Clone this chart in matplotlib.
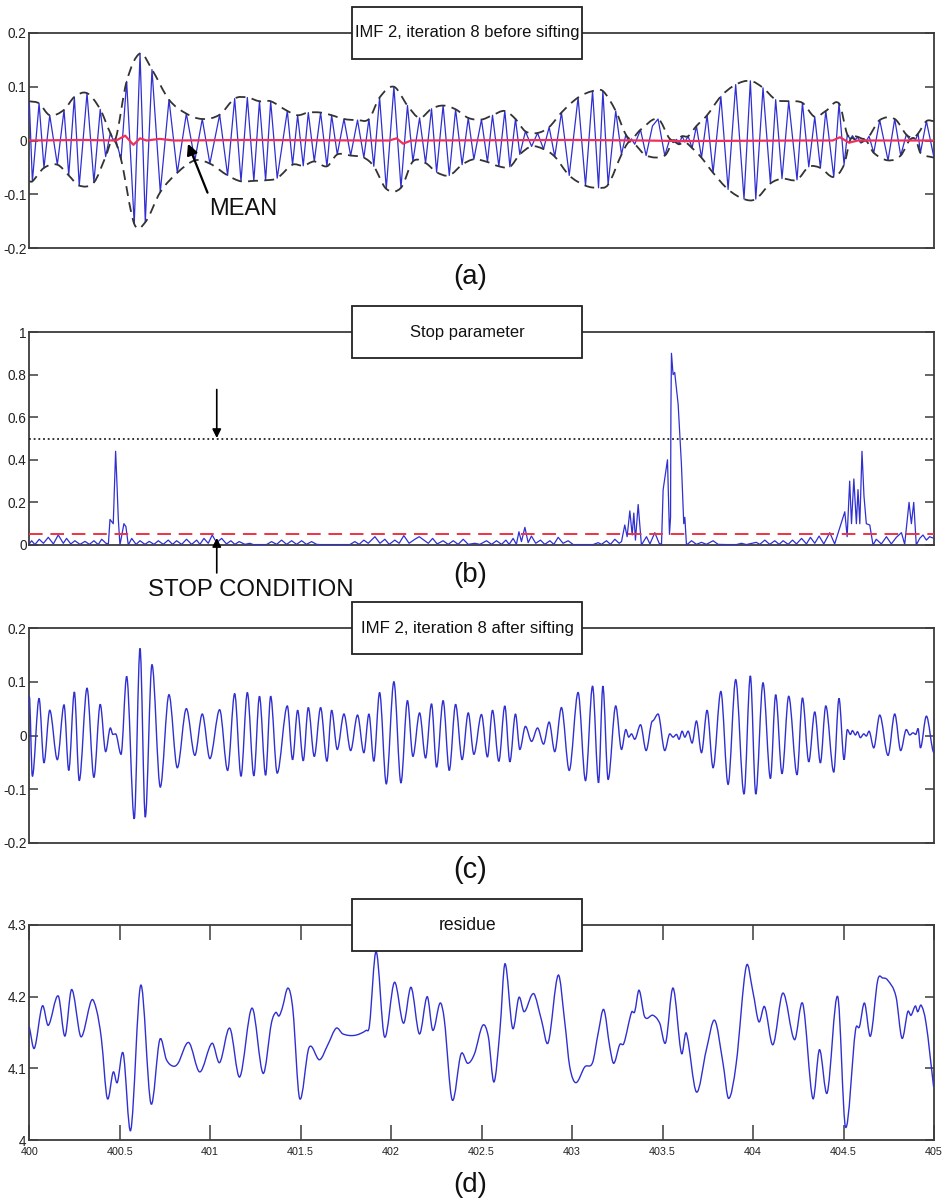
import numpy as np
import matplotlib
matplotlib.use("Agg")
import matplotlib.pyplot as plt
from matplotlib.path import Path
from matplotlib.patches import PathPatch, Rectangle

FONT = ['Liberation Sans Narrow', 'Liberation Sans', 'DejaVu Sans']
plt.rcParams['font.family'] = FONT

T0 = 400.0
# ---------------- data (time offsets from 400 s) ----------------
imf_t = [0.000, 0.017, 0.054, 0.081, 0.113, 0.155, 0.192, 0.218, 0.249, 0.276, 0.319, 0.357, 0.392, 0.422,
         0.448, 0.462, 0.477, 0.507, 0.538, 0.580, 0.612, 0.641, 0.678, 0.724, 0.772, 0.818, 0.868, 0.915,
         0.956, 0.998, 1.052, 1.096, 1.135, 1.170, 1.205, 1.241, 1.272,
         1.306, 1.334, 1.370, 1.426, 1.455, 1.483, 1.514, 1.542, 1.575, 1.610, 1.645, 1.671, 1.702, 1.739,
         1.776, 1.814, 1.849, 1.877, 1.904, 1.936, 1.973, 2.015, 2.054, 2.090, 2.120, 2.157, 2.190, 2.223,
         2.251, 2.287, 2.321, 2.356, 2.392, 2.426, 2.457, 2.499, 2.532,
         2.560, 2.595, 2.628, 2.656, 2.687, 2.711, 2.742, 2.776, 2.809, 2.842, 2.873, 2.904, 2.941, 2.984,
         3.033, 3.074, 3.113, 3.146, 3.170, 3.199, 3.241, 3.273, 3.297, 3.313, 3.328, 3.346, 3.378, 3.409,
         3.444, 3.475, 3.512, 3.540, 3.558, 3.577, 3.591, 3.608, 3.623, 3.641, 3.663, 3.687, 3.715, 3.746,
         3.779,
         3.822, 3.862, 3.904, 3.950, 3.985, 4.015, 4.055, 4.096, 4.125, 4.160, 4.197, 4.243, 4.273, 4.308,
         4.341, 4.372, 4.402, 4.446, 4.475, 4.503, 4.521, 4.538, 4.549, 4.566, 4.577, 4.593, 4.612, 4.626,
         4.641, 4.667, 4.700, 4.746, 4.783, 4.816, 4.847, 4.866, 4.884, 4.899, 4.912, 4.925, 4.958, 5.000]
imf_v = [0.073, -0.076, 0.069, -0.051, 0.047, -0.045, 0.057, -0.065, 0.081, -0.084, 0.088, -0.078, 0.058, -0.030,
         0.014, 0.002, 0.003, -0.035, 0.110, -0.155, 0.162, -0.152, 0.132, -0.096, 0.076, -0.060, 0.050, -0.037,
         0.040, -0.043, 0.048, -0.065, 0.078, -0.076, 0.080, -0.075, 0.073,
         -0.074, 0.073, -0.070, 0.055, -0.045, 0.047, -0.047, 0.052, -0.039, 0.052, -0.048, 0.047, -0.026, 0.040,
         -0.028, 0.038, -0.032, 0.040, -0.048, 0.080, -0.090, 0.100, -0.088, 0.065, -0.039, 0.042, -0.042, 0.059,
         -0.059, 0.065, -0.065, 0.058, -0.045, 0.042, -0.035, 0.039, -0.040,
         0.047, -0.048, 0.055, -0.049, 0.040, -0.026, 0.017, -0.011, 0.014, -0.016, 0.025, -0.030, 0.052, -0.065,
         0.080, -0.084, 0.092, -0.088, 0.092, -0.082, 0.055, -0.026, 0.011, -0.003, 0.003, -0.007, 0.020, -0.028,
         0.027, 0.040, -0.028, 0.003, -0.003, 0.002, -0.007, 0.008, -0.003, 0.008, -0.014, 0.027, -0.032, 0.047,
         -0.060,
         0.082, -0.091, 0.104, -0.109, 0.111, -0.109, 0.098, -0.080, 0.076, -0.071, 0.073, -0.073, 0.070, -0.049,
         0.044, -0.051, 0.055, -0.068, 0.069, -0.045, 0.011, 0.002, 0.009, 0.001, 0.007, -0.004, 0.003, -0.001,
         0.008, -0.023, 0.038, -0.037, 0.040, -0.028, 0.011, 0.001, 0.005, 0.002, 0.013, -0.023, 0.036, -0.032]

mean_t = [0.00, 0.30, 0.48, 0.53, 0.575, 0.612, 0.648, 0.72, 0.80, 1.20, 1.90, 1.99, 2.03, 2.066, 2.11,
          3.00, 3.40, 3.60, 4.30, 4.44, 4.48, 4.53, 4.58, 5.00]
mean_v = [0.000, 0.001, 0.000, 0.009, -0.008, 0.004, 0.000, 0.003, 0.000, 0.001, 0.000, 0.000, 0.004, -0.006,
          0.000, 0.001, 0.000, -0.001, 0.000, 0.000, 0.006, -0.004, 0.000, 0.000]

stop_t = [0.000, 0.013, 0.031, 0.055, 0.078, 0.105, 0.133, 0.160, 0.188, 0.206, 0.229, 0.252, 0.280, 0.308,
          0.332, 0.357, 0.381, 0.400, 0.424, 0.437, 0.446, 0.464, 0.477, 0.483, 0.492, 0.501, 0.523, 0.534,
          0.547, 0.566, 0.590, 0.612, 0.639, 0.663, 0.689, 0.713, 0.740, 0.768, 0.792, 0.814, 0.842, 0.869,
          0.897, 0.925, 0.943, 0.965, 0.989, 1.011, 1.035, 1.063, 1.090, 1.114, 1.136, 1.160, 1.192, 1.219,
          1.238, 1.311, 1.339, 1.367, 1.394, 1.422, 1.450, 1.477, 1.505, 1.532, 1.560, 1.588, 1.606, 1.772,
          1.799, 1.823, 1.849, 1.873, 1.910, 1.938, 1.965, 1.989, 2.020, 2.044, 2.070, 2.099, 2.131, 2.155,
          2.181, 2.205, 2.229, 2.254, 2.287, 2.315, 2.343, 2.370, 2.398, 2.426,
          2.462, 2.490, 2.527, 2.555, 2.582, 2.610, 2.634, 2.652, 2.674, 2.692, 2.706, 2.720, 2.739, 2.757,
          2.775, 2.799, 2.825, 2.849, 2.877, 2.899, 2.923, 2.950, 2.978, 3.006, 3.061, 3.116, 3.144, 3.162,
          3.190, 3.212, 3.236, 3.260, 3.273, 3.291, 3.304, 3.319, 3.332, 3.341, 3.350, 3.365, 3.383, 3.411,
          3.430, 3.457, 3.481, 3.494, 3.503, 3.527, 3.538, 3.544, 3.546, 3.549, 3.558, 3.567, 3.586, 3.604,
          3.617, 3.623, 3.632, 3.660, 3.687, 3.715, 3.742, 3.779, 3.807, 3.853, 3.908, 3.936, 3.963, 4.018,
          4.037, 4.065, 4.092, 4.120, 4.144, 4.166, 4.194, 4.218, 4.240, 4.268, 4.295, 4.317, 4.341, 4.365,
          4.391, 4.424, 4.451, 4.475, 4.507, 4.520, 4.534, 4.544, 4.557, 4.571, 4.580, 4.590, 4.602, 4.613,
          4.626, 4.645, 4.663, 4.681, 4.709, 4.737, 4.764, 4.792, 4.820, 4.838, 4.862, 4.875, 4.888, 4.902,
          4.921, 4.939, 4.958, 4.976, 5.000]
stop_v = [0.005, 0.020, 0.002, 0.027, 0.008, 0.036, 0.005, 0.047, 0.008, 0.031, 0.005, 0.020, 0.003, 0.017,
          0.003, 0.020, 0.002, 0.027, 0.008, 0.005, 0.120, 0.100, 0.440, 0.320, 0.120, 0.000, 0.100, 0.086,
          0.000, 0.031, 0.003, 0.020, 0.003, 0.017, 0.003, 0.020, 0.003, 0.023, 0.003, 0.020, 0.003, 0.027,
          0.003, 0.023, 0.003, 0.031, 0.008, 0.047, 0.011, 0.031, 0.005, 0.020, 0.003, 0.016, 0.003, 0.008,
          0.002, 0.002, 0.016, 0.003, 0.023, 0.003, 0.020, 0.003, 0.020, 0.003, 0.016, 0.003, 0.002, 0.002,
          0.016, 0.003, 0.023, 0.008, 0.039, 0.008, 0.027, 0.003, 0.023, 0.008, 0.044, 0.008, 0.027, 0.039,
          0.023, 0.008, 0.031, 0.005, 0.020, 0.003, 0.020, 0.003, 0.027, 0.003,
          0.008, 0.003, 0.020, 0.003, 0.020, 0.003, 0.023, 0.003, 0.031, 0.003, 0.062, 0.016, 0.083, 0.011,
          0.042, 0.008, 0.023, 0.003, 0.020, 0.003, 0.036, 0.008, 0.020, 0.002, 0.002, 0.002, 0.011, 0.003,
          0.020, 0.003, 0.027, 0.008, 0.016, 0.094, 0.039, 0.160, 0.047, 0.150, 0.023, 0.190, 0.000, 0.039,
          0.005, 0.058, 0.008, 0.003, 0.260, 0.400, 0.050, 0.130, 0.630, 0.900, 0.800, 0.810, 0.660, 0.380,
          0.100, 0.130, 0.000, 0.020, 0.003, 0.0125, 0.003, 0.020, 0.003, 0.002, 0.002, 0.008, 0.002, 0.0125,
          0.003, 0.023, 0.003, 0.020, 0.003, 0.020, 0.003, 0.023, 0.005, 0.031, 0.005, 0.036, 0.008, 0.042,
          0.005, 0.058, 0.005, 0.070, 0.156, 0.039, 0.300, 0.100, 0.310, 0.100, 0.260, 0.100, 0.440, 0.230,
          0.100, 0.094, 0.000, 0.027, 0.005, 0.039, 0.005, 0.036, 0.058, 0.003, 0.200, 0.100, 0.200, 0.000,
          0.031, 0.047, 0.023, 0.039, 0.031]
stop_thresholds = [0.05, 0.5]

res_t = [0.000, 0.028, 0.072, 0.105, 0.160, 0.197, 0.234, 0.280, 0.298, 0.344, 0.372, 0.399, 0.431, 0.464,
         0.486, 0.519, 0.561, 0.616, 0.672, 0.721, 0.758, 0.795, 0.822, 0.881, 0.942, 1.010, 1.052, 1.108,
         1.163, 1.231, 1.292, 1.338, 1.362, 1.380, 1.398, 1.430, 1.457, 1.494, 1.546, 1.604, 1.650, 1.696,
         1.733, 1.798, 1.862, 1.880, 1.917, 1.963, 2.018, 2.068, 2.110, 2.156, 2.199, 2.230, 2.270, 2.294,
         2.337, 2.386, 2.423, 2.460, 2.506, 2.537, 2.568, 2.601, 2.629, 2.671, 2.706, 2.735, 2.776, 2.794,
         2.831, 2.868, 2.923, 2.960, 2.987, 3.021, 3.070, 3.113, 3.144, 3.175, 3.208, 3.230, 3.263, 3.286,
         3.328, 3.346, 3.370, 3.401, 3.447, 3.484, 3.517, 3.558, 3.604, 3.631, 3.687, 3.742, 3.788, 3.834,
         3.865, 3.907, 3.962, 3.999, 4.032, 4.064, 4.110, 4.165, 4.229, 4.275, 4.330, 4.367, 4.410, 4.468,
         4.511, 4.566, 4.588, 4.616, 4.649, 4.689, 4.717, 4.744, 4.790, 4.823, 4.855, 4.873, 4.897, 4.910,
         4.929, 4.956, 4.998]
res_v = [4.158, 4.128, 4.187, 4.160, 4.201, 4.145, 4.210, 4.147, 4.149, 4.195, 4.181, 4.140, 4.058, 4.095,
         4.080, 4.121, 4.014, 4.216, 4.051, 4.140, 4.112, 4.103, 4.107, 4.136, 4.095, 4.135, 4.108, 4.156,
         4.088, 4.184, 4.093, 4.163, 4.178, 4.173, 4.184, 4.212, 4.181, 4.058, 4.129, 4.112, 4.133, 4.156,
         4.148, 4.146, 4.153, 4.160, 4.263, 4.144, 4.220, 4.163, 4.213, 4.148, 4.200, 4.153, 4.191, 4.167,
         4.056, 4.120, 4.107, 4.120, 4.160, 4.144, 4.081, 4.153, 4.246, 4.156, 4.199, 4.179, 4.202, 4.202,
         4.167, 4.136, 4.230, 4.163, 4.102, 4.080, 4.102, 4.108, 4.149, 4.182, 4.130, 4.107, 4.133, 4.135,
         4.178, 4.179, 4.209, 4.172, 4.174, 4.163, 4.136, 4.212, 4.121, 4.149, 4.067, 4.126, 4.167, 4.107,
         4.058, 4.107, 4.242, 4.207, 4.165, 4.186, 4.133, 4.205, 4.140, 4.190, 4.058, 4.126, 4.066, 4.200,
         4.018, 4.153, 4.158, 4.191, 4.145, 4.223, 4.226, 4.223, 4.200, 4.142, 4.179, 4.174, 4.187, 4.179,
         4.188, 4.163, 4.074]

titles = ["IMF 2, iteration 8 before sifting", "Stop parameter",
          "IMF 2, iteration 8 after sifting", "residue"]
title_widths_px = [224, 114, 212, 58]
panel_labels = ["(a)", "(b)", "(c)", "(d)"]
imf_ticks = [-0.2, -0.1, 0, 0.1, 0.2]
imf_ticklabels = ["-0.2", "-0.1", "0", "0.1", "0.2"]
stop_ticks = [0, 0.2, 0.4, 0.6, 0.8, 1]
stop_ticklabels = ["0", "0.2", "0.4", "0.6", "0.8", "1"]
res_ticks = [4, 4.1, 4.2, 4.3]
res_ticklabels = ["4", "4.1", "4.2", "4.3"]
x_ticks = [400, 400.5, 401, 401.5, 402, 402.5, 403, 403.5, 404, 404.5, 405]
x_ticklabels = ["400", "400.5", "401", "401.5", "402", "402.5", "403", "403.5", "404", "404.5", "405"]

BLUE = '#2f2fd2'
SPINE = '#3c3c3c'


def smooth_path(x, y, flat=False):
    x = np.asarray(x, float)
    y = np.asarray(y, float)
    n = len(x)
    verts = [(x[0], y[0])]
    codes = [Path.MOVETO]
    for i in range(n - 1):
        dx = x[i + 1] - x[i]
        if flat:
            m1 = m2 = 0.0
        else:
            i0 = max(i - 1, 0)
            i3 = min(i + 2, n - 1)
            m1 = (y[i + 1] - y[i0]) / (x[i + 1] - x[i0])
            m2 = (y[i3] - y[i]) / (x[i3] - x[i])
        verts += [(x[i] + dx / 3, y[i] + m1 * dx / 3),
                  (x[i + 1] - dx / 3, y[i + 1] - m2 * dx / 3),
                  (x[i + 1], y[i + 1])]
        codes += [Path.CURVE4] * 3
    return Path(verts, codes)


def add_curve(ax, x, y, flat=False, **kw):
    p = PathPatch(smooth_path(x, y, flat), fill=False, **kw)
    ax.add_patch(p)
    return p


fig = plt.figure(figsize=(9.47, 12.03), dpi=100)
renderer = fig.canvas.get_renderer()


def fit_width(txt, target_px):
    w = txt.get_window_extent(renderer).width
    if w > 0:
        txt.set_fontsize(txt.get_fontsize() * target_px / w)


def size_for(sample, target_px, base=10.0):
    t = fig.text(0, 0, sample, fontsize=base)
    w = t.get_window_extent(renderer).width
    t.remove()
    return base * target_px / w


ylab_size = size_for("0.2", 19)
xlab_size = size_for("400.5", 27)

W, H = 947.0, 1203.0
left = 29.3 / W
width = (934.0 - 29.3) / W
tops = [33, 332, 628, 925]
bottoms = [248, 545, 843, 1140]
label_y = [277, 575, 870, 1185]
axes = []
for tp, bt in zip(tops, bottoms):
    ax = fig.add_axes([left, 1 - bt / H, width, (bt - tp) / H])
    axes.append(ax)

for i, ax in enumerate(axes):
    ax.set_xlim(400, 405)
    for s in ax.spines.values():
        s.set_color(SPINE)
        s.set_linewidth(1.3)
    ax.tick_params(axis='y', direction='in', left=True, right=True, length=6.5,
                   width=1.1, color=SPINE, labelsize=ylab_size, pad=2, labelcolor='#222222')
    if i < 3:
        ax.tick_params(axis='x', bottom=False, top=False, labelbottom=False)
    else:
        ax.set_xticks(x_ticks)
        ax.set_xticklabels(x_ticklabels)
        ax.tick_params(axis='x', direction='in', bottom=True, top=True, length=11,
                       width=1.1, color=SPINE, labelsize=xlab_size, pad=5, labelcolor='#222222')
    # title box straddling the top spine
    hb = 26.0 / ((bottoms[i] - tops[i]))
    ax.add_patch(Rectangle((0.3567, 1 - hb), 0.2542, 2 * hb, transform=ax.transAxes,
                           facecolor='white', edgecolor='#222222', lw=1.3,
                           clip_on=False, zorder=20))
    tt = ax.text(0.4845, 1.0, titles[i], transform=ax.transAxes, ha='center', va='center',
                 fontsize=14.5, color='#111111', zorder=21)
    fit_width(tt, title_widths_px[i])
    pl = fig.text(470 / W, 1 - label_y[i] / H, panel_labels[i], ha='center',
                  va='center', fontsize=23, color='#111111')
    fit_width(pl, 34)

t_imf = T0 + np.array(imf_t)
v_imf = np.array(imf_v)

# (a) before sifting
ax = axes[0]
ax.set_ylim(-0.2, 0.2)
ax.set_yticks(imf_ticks)
ax.set_yticklabels(imf_ticklabels)
ax.plot(t_imf, v_imf, color=BLUE, lw=0.9, zorder=3)
is_max = np.r_[False, (v_imf[1:-1] > v_imf[:-2]) & (v_imf[1:-1] > v_imf[2:]), False]
is_min = np.r_[False, (v_imf[1:-1] < v_imf[:-2]) & (v_imf[1:-1] < v_imf[2:]), False]
is_max[0] = v_imf[0] > v_imf[1]
is_min[-1] = v_imf[-1] < v_imf[-2]
for mask in (is_max, is_min):
    ex_t = np.r_[400.0, t_imf[mask], 405.0]
    ex_v = np.r_[v_imf[mask][0], v_imf[mask], v_imf[mask][-1]]
    ex_t, idx = np.unique(ex_t, return_index=True)
    ex_v = ex_v[idx]
    add_curve(ax, ex_t, ex_v, edgecolor='#333333', lw=1.3, ls=(0, (5.5, 3.5)), zorder=4)
ax.plot(T0 + np.array(mean_t), mean_v, color='#f0305a', lw=1.6, zorder=5)
ax.annotate("", xy=(400.877, -0.006), xytext=(400.985, -0.097),
            arrowprops=dict(arrowstyle='-|>', color='black', lw=1.6, mutation_scale=16,
                            shrinkA=0, shrinkB=0), zorder=8)
mt = ax.text(401.18, -0.128, "MEAN", ha='center', va='center', fontsize=21, color='#111111')
fit_width(mt, 68)

# (b) stop parameter
ax = axes[1]
ax.set_ylim(0, 1)
ax.set_yticks(stop_ticks)
ax.set_yticklabels(stop_ticklabels)
ax.plot(T0 + np.array(stop_t), stop_v, color=BLUE, lw=0.9, zorder=3)
ax.axhline(stop_thresholds[0], color='#ee3344', lw=1.4, ls=(0, (7, 4)), zorder=4)
ax.axhline(stop_thresholds[1], color='#222222', lw=1.3, ls=(0, (1, 1.6)), zorder=4)
ax.annotate("", xy=(401.036, 0.502), xytext=(401.036, 0.73),
            arrowprops=dict(arrowstyle='-|>', color='black', lw=1.2, mutation_scale=13,
                            shrinkA=0, shrinkB=0), zorder=8)
ax.annotate("", xy=(401.036, 0.033), xytext=(401.036, -0.131),
            arrowprops=dict(arrowstyle='-|>', color='black', lw=1.2, mutation_scale=13,
                            shrinkA=0, shrinkB=0), zorder=8, annotation_clip=False)
st = ax.text(401.225, -0.212, "STOP CONDITION", ha='center', va='center', fontsize=21,
             color='#111111', clip_on=False)
fit_width(st, 205)

# (c) after sifting
ax = axes[2]
ax.set_ylim(-0.2, 0.2)
ax.set_yticks(imf_ticks)
ax.set_yticklabels(imf_ticklabels)
add_curve(ax, t_imf, v_imf, flat=True, edgecolor=BLUE, lw=1.0, zorder=3)

# (d) residue
ax = axes[3]
ax.set_ylim(4, 4.3)
ax.set_yticks(res_ticks)
ax.set_yticklabels(res_ticklabels)
add_curve(ax, T0 + np.array(res_t), res_v, edgecolor=BLUE, lw=1.0, zorder=3)

fig.savefig("out.png", dpi=100, facecolor='white')
